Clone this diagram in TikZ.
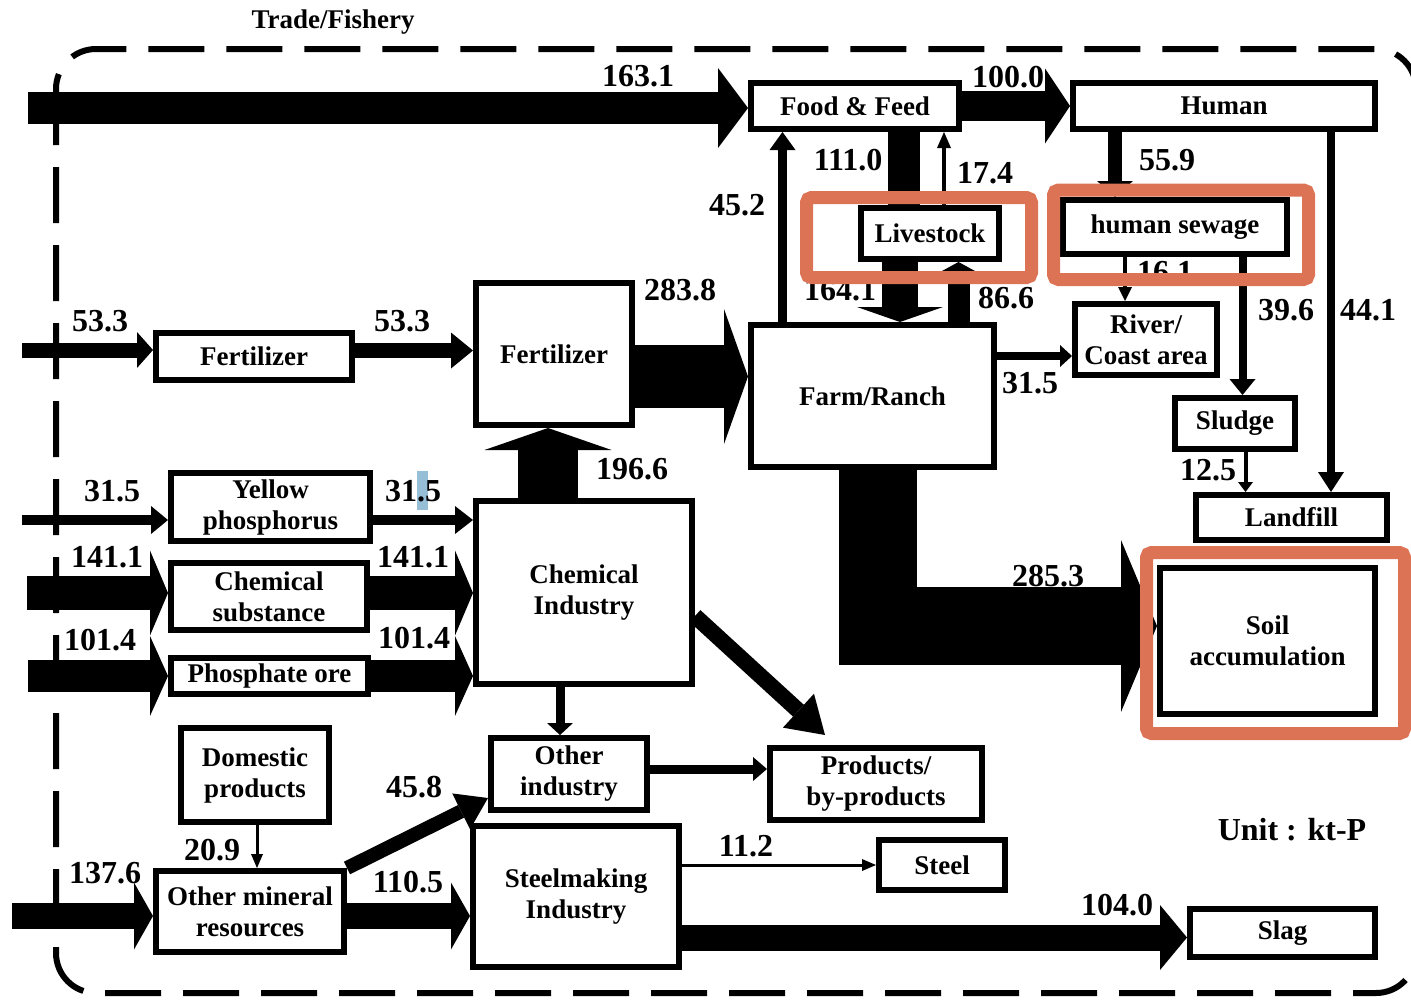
\documentclass[tikz,border=0pt]{standalone}
\usepackage{fontspec}
\setmainfont{Liberation Serif}
\usetikzlibrary{arrows.meta}
\definecolor{hilite}{RGB}{220,115,85}
\definecolor{selblue}{RGB}{150,190,215}
\newcommand{\boxfont}{\fontsize{27}{31}\selectfont\bfseries}
\newcommand{\numfont}{\fontsize{32}{34}\selectfont\bfseries}

\begin{document}
\begin{tikzpicture}[x=1pt,y=-1pt]

\tikzstyle{box}=[draw,line width=6pt,fill=white,inner sep=0pt,align=center,font=\boxfont]
\tikzstyle{num}=[inner sep=0pt,font=\numfont]
\tikzset{flow/.style n args={3}{line width=#1pt,-{Triangle[length=#2pt,width=#3pt,line width=0pt]}}}
\tikzset{wh/.style 2 args={minimum width=#1pt,minimum height=#2pt}}

\useasboundingbox (0,0) rectangle (1411,999);

% system boundary
\draw[line width=6pt,dash pattern=on 56pt off 22pt,rounded corners=40pt] (56,49) rectangle (1416,993);
\node[font=\boxfont] (trade) at (333,22) {Trade/Fishery};

\node[box,wh={208}{46}] (food) at (855,106) {Food \& Feed};
\node[box,wh={302}{46}] (human) at (1224,106) {Human};
\node[box,wh={138}{51}] (live) at (930,233.5) {Livestock};
\node[box,wh={224}{54}] (sewage) at (1175,227) {human sewage};
\node[box,wh={142}{71}] (river) at (1146,339.5) {River/\\Coast area};
\node[box,wh={120}{51}] (sludge) at (1235,423.5) {Sludge};
\node[box,wh={191}{45}] (landfill) at (1291.5,517.5) {Landfill};
\node[box,wh={215}{146}] (soil) at (1267.5,641) {Soil\\accumulation};
\node[box,wh={243}{142}] (farm) at (872.5,396) {Farm/Ranch};
\node[box,wh={156}{142}] (fertB) at (554,354) {Fertilizer};
\node[box,wh={196}{47}] (fertL) at (254,356.5) {Fertilizer};
\node[box,wh={199}{68}] (yellow) at (270.5,507) {Yellow\\phosphorus};
\node[box,wh={196}{67}] (chemsub) at (269,596.5) {Chemical\\substance};
\node[box,wh={197}{36}] (ore) at (269.5,676) {Phosphate ore};
\node[box,wh={216}{183}] (chem) at (584,592.5) {Chemical\\Industry};
\node[box,wh={156}{72}] (other) at (569,774) {Other\\industry};
\node[box,wh={212}{72}] (prod) at (876,784) {Products/\\by-products};
\node[box,wh={148}{94}] (dom) at (255,775) {Domestic\\products};
\node[box,wh={188}{81}] (mineral) at (250,911.5) {Other mineral\\resources};
\node[box,wh={206}{141}] (steelmk) at (576,896.5) {Steelmaking\\Industry};
\node[box,wh={126}{50}] (steel) at (942,865) {Steel};
\node[box,wh={185}{48}] (slag) at (1282.5,933) {Slag};

% food chain
\coordinate (in1) at (28,108);
\draw[flow={32}{30}{80}] (in1) -- (in1 -| food.west);
\draw[flow={30}{25}{75}] (food.east) -- (human.west);
\draw[line width=32pt] ([xshift=49pt]food.south) -- ([xshift=49pt]food.south |- live.north);
\draw[flow={4}{16}{14}] ([xshift=14pt]live.north) -- ([xshift=14pt]live.north |- food.south);
\draw[flow={9}{18}{26}] ([xshift=-90pt]farm.north) -- ([xshift=-90pt]farm.north |- food.south);
\draw[flow={36}{15}{86}] ([xshift=-30pt]live.south) -- ([xshift=-30pt]live.south |- farm.north);
\draw[flow={22}{12}{44}] ([xshift=86pt]farm.north) -- ([xshift=86pt]farm.north |- live.south);

\draw[flow={14}{16}{36}] ([xshift=-109pt]human.south) -- ([xshift=-109pt]human.south |- sewage.north);
\draw[flow={8}{20}{26}] ([xshift=107pt]human.south) -- ([xshift=107pt]human.south |- landfill.north);
\draw[flow={4}{14}{14}] ([xshift=-50pt]sewage.south) -- ([xshift=-50pt]sewage.south |- river.north);
\draw[flow={8}{16}{26}] ([xshift=67.5pt]sewage.south) -- ([xshift=67.5pt]sewage.south |- sludge.north);
\draw[flow={4}{10}{15}] ([xshift=10.5pt]sludge.south) -- ([xshift=10.5pt]sludge.south |- landfill.north);
\draw[flow={8}{12}{22}] ([yshift=40pt]farm.east) -- ([yshift=40pt]farm.east -| river.west);
\draw[flow={78}{36}{172}] ([xshift=5pt]farm.south) |- ([yshift=15pt]soil.west);

\draw[flow={63}{24}{135}] ([yshift=-22.5pt]fertB.east) -- ([yshift=-22.5pt]fertB.east -| farm.west);
\draw[flow={60}{22}{127}] ([xshift=-36pt]chem.north) -- ([xshift=-36pt]chem.north |- fertB.south);

% imports to chemical industry
\coordinate (in2) at (22,350);
\draw[flow={15}{16}{36}] (in2) -- (in2 -| fertL.west);
\draw[flow={15}{22}{36}] ([yshift=6pt]fertL.east) -- ([yshift=6pt]fertL.east -| fertB.west);
\coordinate (in3) at (22,520);
\draw[flow={10}{17}{28}] (in3) -- (in3 -| yellow.west);
\draw[flow={10}{18}{28}] ([yshift=-13pt]yellow.east) -- ([yshift=-13pt]yellow.east -| chem.west);
\coordinate (in4) at (27,593);
\draw[flow={34}{18}{85}] (in4) -- (in4 -| chemsub.west);
\draw[flow={34}{18}{85}] ([yshift=3.5pt]chemsub.east) -- ([yshift=3.5pt]chemsub.east -| chem.west);
\coordinate (in5) at (28,676);
\draw[flow={32}{18}{80}] (in5) -- (in5 -| ore.west);
\draw[flow={32}{18}{80}] (ore.east) -- (ore.east -| chem.west);

\draw[flow={9}{12}{26}] ([xshift=-24pt]chem.south) -- ([xshift=-24pt]chem.south |- other.north);
\draw[flow={16}{36}{46}] ([yshift=-23.5pt]chem.east) -- ([xshift=58pt,yshift=10pt]prod.north west);
\draw[flow={9}{14}{24}] ([yshift=5pt]other.east) -- ([yshift=5pt]other.east -| prod.west);

% minerals and steel
\draw[flow={3}{14}{12}] ([xshift=2pt]dom.south) -- ([xshift=2pt]dom.south |- mineral.north);
\coordinate (in6) at (12,916);
\draw[flow={26}{19}{67}] (in6) -- (in6 -| mineral.west);
\draw[flow={26}{19}{67}] ([yshift=-4.5pt]mineral.east) -- ([yshift=-4.5pt]mineral.east -| steelmk.west);
\draw[flow={14}{30}{40}] (mineral.north east) -- ([yshift=15pt]other.south west);
\draw[flow={3}{14}{12}] ([yshift=31.5pt]steelmk.east) -- ([yshift=31.5pt]steelmk.east -| steel.west);
\draw[flow={26}{27}{65}] ([yshift=-41pt]steelmk.east) -- ([yshift=-41pt]steelmk.east -| slag.west);

\fill[selblue] (417,471) rectangle (428,510);

\node[num] (l1) at (638,76) {163.1};
\node[num] (l2) at (1008,77) {100.0};
\node[num] (l3) at (848,160) {111.0};
\node[num] (l4) at (985,173) {17.4};
\node[num] (l5) at (737,205) {45.2};
\node[num] (l6) at (840,290) {164.1};
\node[num] (l7) at (1006,298) {86.6};
\node[num] (l8) at (1167,160) {55.9};
\node[num] (l9) at (1165,272) {16.1};
\node[num] (l10) at (1286,310) {39.6};
\node[num] (l11) at (1368,310) {44.1};
\node[num] (l12) at (1030,383) {31.5};
\node[num] (l13) at (1208,470) {12.5};
\node[num] (l14) at (680,290) {283.8};
\node[num] (l15) at (1048,576) {285.3};
\node[num] (l16) at (100,321) {53.3};
\node[num] (l17) at (402,321) {53.3};
\node[num] (l18) at (112,491) {31.5};
\node[num] (l19) at (413,491) {31.5};
\node[num] (l20) at (107,557) {141.1};
\node[num] (l21) at (413,557) {141.1};
\node[num] (l22) at (100,640) {101.4};
\node[num] (l23) at (414,638) {101.4};
\node[num] (l24) at (632,469) {196.6};
\node[num] (l25) at (414,787) {45.8};
\node[num] (l26) at (212,850) {20.9};
\node[num] (l27) at (105,873) {137.6};
\node[num] (l28) at (408,882) {110.5};
\node[num] (l29) at (746,846) {11.2};
\node[num] (l30) at (1117,905) {104.0};
\node[font=\fontsize{32}{36}\selectfont\bfseries] (unit) at (1292,830) {Unit : kt-P};

% highlights
\draw[hilite,line width=13pt,rounded corners=5pt] (806.5,197.5) rectangle (1031.5,277.5);
\draw[hilite,line width=13pt,rounded corners=5pt] (1053.5,190) rectangle (1308.5,279.5);
\draw[hilite,line width=13pt,rounded corners=5pt] (1146.5,552.5) rectangle (1404.5,733.5);

\end{tikzpicture}
\end{document}
